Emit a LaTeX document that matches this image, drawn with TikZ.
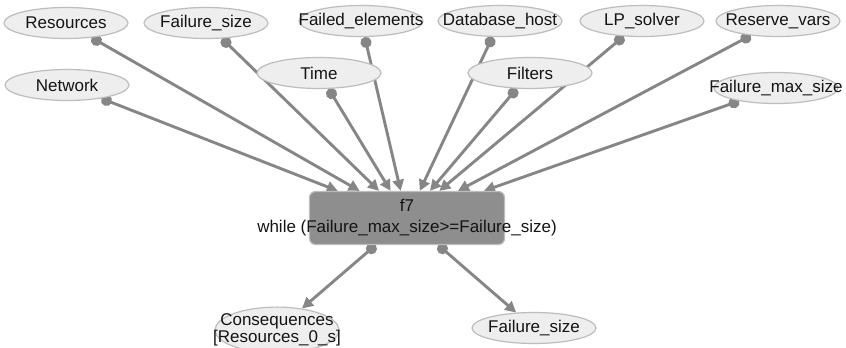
\documentclass[tikz,border=0pt]{standalone}
\usepackage{fontspec}
\setmainfont{Liberation Sans}
\usetikzlibrary{arrows.meta,backgrounds,shapes.geometric}
\definecolor{edgegray}{HTML}{868686}
\definecolor{ellfill}{HTML}{EEEEEE}
\definecolor{ellline}{HTML}{BDBDBD}
\definecolor{boxfill}{HTML}{8E8E8E}
\definecolor{txt}{HTML}{141414}
\newcommand{\zw}[1]{\makebox[0pt]{#1}}
\begin{document}
\begin{tikzpicture}[x=1pt,y=-1pt,
  var/.style={ellipse, draw=ellline, line width=1.2pt, fill=ellfill,
    minimum width=124pt, minimum height=31pt, inner sep=0pt,
    font=\fontsize{17}{17}\selectfont, text=txt, align=center},
  func/.style={rectangle, rounded corners=6pt, draw=ellline, line width=1.2pt,
    fill=boxfill, minimum width=195pt, minimum height=53pt, inner sep=0pt,
    font=\fontsize{17}{21}\selectfont, text=txt, align=center},
  link/.style={draw=edgegray, line width=2.9pt,
    {Circle[length=11pt]}-{Triangle[length=11pt,width=11pt]}}]
\useasboundingbox (0,0) rectangle (846,348);
% nodes
\node[var] (res) at (66,23) {\zw{Resources}};
\node[var] (fsz) at (206,23) {\zw{Failure\_size}};
\node[var] (fel) at (361,21) {\zw{Failed\_elements}};
\node[var] (dbh) at (500,21) {\zw{Database\_host}};
\node[var] (lps) at (642,21) {\zw{LP\_solver}};
\node[var] (rsv) at (778,21) {\zw{Reserve\_vars}};
\node[var] (net) at (67,85) {\zw{Network}};
\node[var] (tim) at (319,73) {\zw{Time}};
\node[var] (fil) at (530,73) {\zw{Filters}};
\node[var] (fmx) at (776,88) {\zw{Failure\_max\_size}};
\node[func] (f7) at (407,218) {\zw{f7}\\\zw{while (Failure\_max\_size>=Failure\_size)}};
\node[var, minimum height=35pt] (cons) at (277,330) {\zw{Consequences}\\\zw{[Resources\_0\_s]}};
\node[var] (fsz2) at (534,328) {\zw{Failure\_size}};
% edges
\begin{scope}[on background layer]
\fill[white] (0,0) rectangle (846,348);
\draw[link] (net) -- (f7);
\draw[link] (res) -- (f7);
\draw[link] (fsz) -- (f7);
\draw[link] (tim) -- (f7);
\draw[link] (fel) -- (f7);
\draw[link] (dbh) -- (f7);
\draw[link] (fil) -- (f7);
\draw[link] (lps) -- (f7);
\draw[link] (rsv) -- (f7);
\draw[link] (fmx) -- (f7);
\draw[link] (f7) -- (cons);
\draw[link] (f7) -- (fsz2);
\end{scope}
\end{tikzpicture}
\end{document}
